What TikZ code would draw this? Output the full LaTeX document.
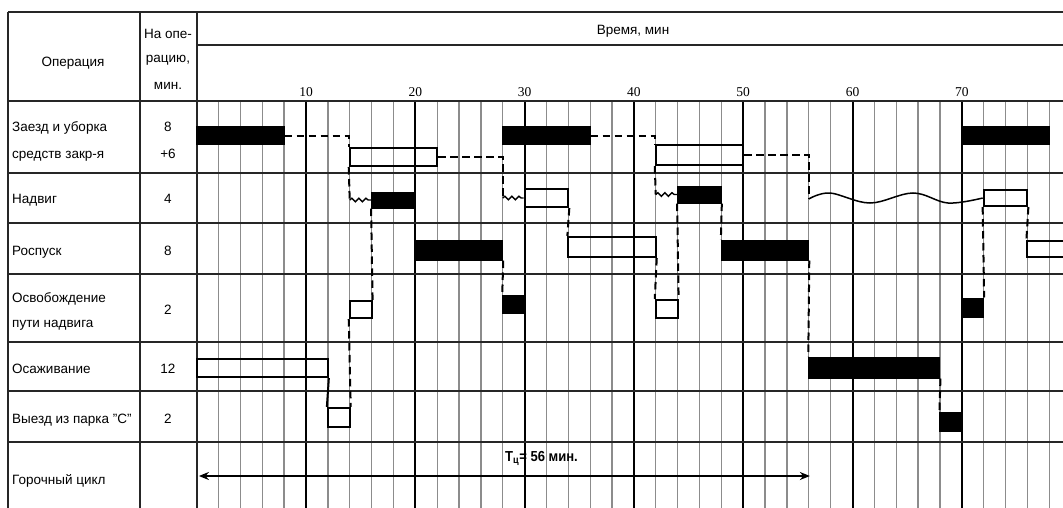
\documentclass[tikz,border=0pt]{standalone}
\usepackage{fontspec}
\setmainfont{Liberation Sans}
\newfontfamily\numfont{Liberation Serif}
\newfontfamily\tcfont[FakeStretch=0.9]{Liberation Sans Bold}
\usetikzlibrary{fit,arrows.meta,decorations.pathmorphing}
\newcommand\tm[1]{196.7+10.93*(#1)}
\newcommand\gbar[6]{\node[#2, fit={({\tm{#3}},#5) ({\tm{#4}},#6)}] (#1) {};}
\begin{document}
\begin{tikzpicture}[x=1pt,y=-1pt,
  font=\fontsize{13.5}{16}\selectfont,
  fbar/.style={draw=black, fill=black, line width=1pt, inner sep=0pt},
  obar/.style={draw=black, line width=2pt, inner sep=0pt},
  conn/.style={line width=2pt, dash pattern=on 7.5pt off 4.5pt},
  link/.style={line width=2pt},
  wig/.style={line width=1.4pt, decorate, decoration={snake, segment length=7pt, amplitude=1.8pt}},
  wave/.style={line width=1.5pt},
  minor/.style={line width=1.3pt, black!45},
  major/.style={line width=2pt, black},
  rule/.style={line width=2pt, black!85},
  lbl/.style={inner sep=0pt, anchor=base west},
  val/.style={inner sep=0pt, anchor=base},
  numlbl/.style={inner sep=0pt, anchor=base, font=\fontsize{13.5}{16}\numfont},
  cyc/.style={line width=2.4pt, {Stealth[length=10pt,width=8pt]}-{Stealth[length=10pt,width=8pt]}}
]
\useasboundingbox (0,0) rectangle (1063,508);
\fill[white] (0,0) rectangle (1063,508);
\clip (0,0) rectangle (1063,508);

% grid
\foreach \t in {2,4,...,78} \draw[minor] ({\tm{\t}},101) -- ({\tm{\t}},512);
\foreach \t in {10,20,...,70} {
  \draw[major] ({\tm{\t}},101) -- ({\tm{\t}},512);
  \node[numlbl] (n\t) at ({\tm{\t}},97) {\t};
}

% table rules
\draw[rule] (8,12) -- (1070,12);
\draw[rule] (8,12) -- (8,512);
\draw[rule] (140,12) -- (140,512);
\draw[rule] (196.7,12) -- (196.7,512);
\draw[rule] (196.7,45) -- (1070,45);
\foreach \yy in {101,173,223,274,342,391,442} \draw[rule] (8,\yy) -- (1070,\yy);

% header texts
\node[val] (hop) at (73,67) {Операция};
\node[val] (hn1) at (168,39) {На опе-};
\node[val] (hn2) at (168,63) {рацию,};
\node[val] (hn3) at (168,90) {мин.};
\node[val] (hvr) at (633,35) {Время, мин};

% row labels
\node[lbl] (l1a) at (12,132) {Заезд и уборка};
\node[lbl] (l1b) at (12,158) {средств закр-я};
\node[lbl] (l2) at (12,204) {Надвиг};
\node[lbl] (l3) at (12,255) {Роспуск};
\node[lbl] (l4a) at (12,302) {Освобождение};
\node[lbl] (l4b) at (12,327) {пути надвига};
\node[lbl] (l5) at (12,373) {Осаживание};
\node[lbl] (l6) at (12,423) {Выезд из парка "С"};
\node[lbl] (l7) at (12,484) {Горочный цикл};

\node[val] (v1a) at (168,132) {8};
\node[val] (v1b) at (168,158) {+6};
\node[val] (v2) at (168,204) {4};
\node[val] (v3) at (168,255) {8};
\node[val] (v4) at (168,314) {2};
\node[val] (v5) at (168,373) {12};
\node[val] (v6) at (168,423) {2};

% bars: name, style, t0, t1, ytop, ybot
\gbar{f1a}{fbar}{0}{8}{127}{145}
\gbar{o1a}{obar}{14}{22}{148}{166}
\gbar{f1b}{fbar}{28}{36}{127}{145}
\gbar{o1b}{obar}{42}{50}{145}{165}
\gbar{f1c}{fbar}{70}{78}{127}{145}

\gbar{f2a}{fbar}{16}{20}{192}{208}
\gbar{o2a}{obar}{30}{34}{189}{207}
\gbar{f2b}{fbar}{44}{48}{186}{203}
\gbar{o2b}{obar}{72}{76}{190}{206}

\gbar{f3a}{fbar}{20}{28}{240}{260}
\gbar{o3a}{obar}{34}{42}{237}{257}
\gbar{f3b}{fbar}{48}{56}{240}{260}
\gbar{o3b}{obar}{76}{84}{241}{257}

\gbar{o4a}{obar}{14}{16}{301}{318}
\gbar{f4a}{fbar}{28}{30}{295}{313}
\gbar{o4b}{obar}{42}{44}{300}{318}
\gbar{f4b}{fbar}{70}{72}{298}{317}

\gbar{o5a}{obar}{0}{12}{359}{377}
\gbar{f5a}{fbar}{56}{68}{357}{378}

\gbar{o6a}{obar}{12}{14}{408}{427}
\gbar{f6a}{fbar}{68}{70}{412}{431}

% wave start points
\coordinate (w1s) at ({\tm{14}},200);
\coordinate (w2s) at ({\tm{28}},198);
\coordinate (w3s) at ({\tm{42}},194.5);
\coordinate (w4s) at ({\tm{56}},199);

% row 1 waiting links
\draw[conn] (f1a.east) -| (o1a.north west);
\draw[conn] (o1a.east) -| (w2s);
\draw[conn] (f1b.east) -| (o1b.north west);
\draw[conn] (o1b.east) -| (w4s);

% down to Надвиг
\draw[conn] (o1a.south west) -- (w1s);
\draw[conn] (o1b.south west) -- (w3s);

% waiting (wavy)
\draw[wig] (w1s) -- (f2a.west);
\draw[wig] (w2s) -- (o2a.west);
\draw[wig] (w3s) -- (f2b.west);
\draw[wave] plot[smooth, tension=0.6] coordinates {(w4s) (830,193) (870,203) (913,193) (948,203) (o2b.west)};

% other connectors
\draw[conn] (f2a.south west) -- (o4a.north east);
\draw[conn] (o4a.south west) -- (o6a.north east);
\draw[link] (o5a.south east) -- (o6a.north west);
\draw[conn] (f3a.south east) -- (f4a.north west);
\draw[conn] (o2a.south east) -- (o3a.north west);
\draw[conn] (o3a.south east) -- (o4b.north west);
\draw[conn] (f2b.south west) -- (o4b.north east);
\draw[conn] (f2b.south east) -- (f3b.north west);
\draw[conn] (f3b.south east) -- (f5a.north west);
\draw[conn] (f5a.south east) -- (f6a.north west);
\draw[conn] (o2b.south west) -- (f4b.north east);
\draw[conn] (o2b.south east) -- (o3b.north west);

% cycle arrow
\coordinate (ca) at ({\tm{0.2}},476);
\coordinate (cb) at ({\tm{56.1}},476);
\draw[cyc] (ca) -- (cb);
\node[lbl, font=\fontsize{14.5}{16}\tcfont] (tc) at (505,461) {T\textsubscript{ц}= 56 мин.};
\end{tikzpicture}
\end{document}
